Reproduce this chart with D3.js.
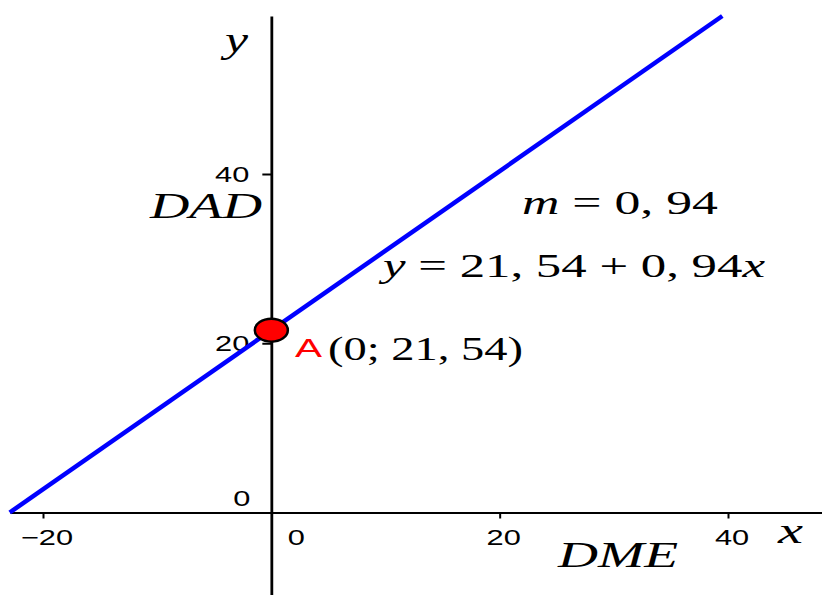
<!DOCTYPE html>
<html>
<head>
<meta charset="utf-8">
<script src="https://cdn.jsdelivr.net/npm/d3@7"></script>
<style>
  html, body { margin: 0; padding: 0; background: #fff; }
  svg { display: block; }
</style>
</head>
<body>
<div id="chart"></div>
<script>
const WIDTH = 822;
const HEIGHT = 595;

// line y = intercept + slope * x
const intercept = 21.54;
const slope = 0.94;

const xTickValues = [-20, 20, 40];
const xTickLabels = ["\u221220", "20", "40"];
const yTickValues = [20, 40];
const yTickLabels = ["20", "40"];
const pointA = [0, 21.54];

// picture is stretched horizontally, text is squeezed to match
const SX = 1.4;

const svg = d3.select("#chart")
    .append("svg")
    .attr("width", WIDTH)
    .attr("height", HEIGHT);

svg.append("rect").attr("width", WIDTH).attr("height", HEIGHT).attr("fill", "#fff");

// scales from tick positions, then extended to the drawn axis span
const x = d3.scaleLinear().domain([-20, 40]).range([43, 728]);
x.domain([x.invert(10), x.invert(822)]).range([10, 822]);

const y = d3.scaleLinear().domain([0, 40]).range([512.5, 174]);
const yTop = y.invert(16);
y.domain([y.invert(595), yTop]).range([595, 16]);

// X axis
const xAxis = svg.append("g")
    .attr("class", "x-axis")
    .attr("transform", `translate(0,${y(0)})`)
    .call(d3.axisBottom(x).tickValues(xTickValues).tickSize(6).tickSizeOuter(0).tickFormat(""));
xAxis.select(".domain").attr("stroke", "#000").attr("stroke-width", 2);
xAxis.selectAll(".tick line").attr("stroke", "#000").attr("stroke-width", 2);

// Y axis
const yAxis = svg.append("g")
    .attr("class", "y-axis")
    .attr("transform", `translate(${x(0)},0)`)
    .call(d3.axisLeft(y).tickValues(yTickValues).tickSize(9).tickSizeOuter(0).tickFormat(""));
yAxis.select(".domain").attr("stroke", "#000").attr("stroke-width", 2.8);
yAxis.selectAll(".tick line").attr("stroke", "#000").attr("stroke-width", 2);

const tickFont = { family: "Liberation Sans, Arial, sans-serif", size: 22 };

function sansLabel(px, py, anchor, str) {
    svg.append("text")
        .attr("transform", `translate(${px},${py}) scale(${SX},1)`)
        .attr("text-anchor", anchor)
        .style("font-family", tickFont.family)
        .style("font-size", tickFont.size + "px")
        .attr("fill", "#000")
        .text(str);
}

xTickValues.forEach((v, i) => sansLabel(x(v) + 4, y(0) + 32, "middle", xTickLabels[i]));
yTickValues.forEach((v, i) => sansLabel(x(0) - 22, y(v) + 8, "end", yTickLabels[i]));
// origin labels
sansLabel(x(0) + 25, y(0) + 32, "middle", "0");
sansLabel(x(0) - 21, y(0) - 6.5, "end", "0");

// regression line, clipped to y in [0, top]
const lineData = [0, yTop].map(v => [(v - intercept) / slope, v]);
svg.append("path")
    .datum(lineData)
    .attr("fill", "none")
    .attr("stroke", "#0000ff")
    .attr("stroke-width", 4.5)
    .attr("d", d3.line().x(d => x(d[0])).y(d => y(d[1])));

// point A
svg.append("ellipse")
    .attr("cx", x(pointA[0]))
    .attr("cy", y(pointA[1]))
    .attr("rx", 16.5)
    .attr("ry", 11.5)
    .attr("fill", "#ff0000")
    .attr("stroke", "#000")
    .attr("stroke-width", 2.5);

// math-style texts: parts = [[string, italic], ...]
function mathText(px, py, len, size, parts, color = "#000", family = "Liberation Serif, 'Times New Roman', serif") {
    const t = svg.append("text")
        .attr("x", px)
        .attr("y", py)
        .attr("textLength", len)
        .attr("lengthAdjust", "spacingAndGlyphs")
        .style("font-family", family)
        .style("font-size", size + "px")
        .attr("fill", color);
    parts.forEach(p => {
        t.append("tspan").style("font-style", p[1] ? "italic" : "normal").text(p[0]);
    });
}

mathText(225, 52, 23, 36, [["y", true]]);
mathText(150, 218, 112, 36, [["DAD", true]]);
mathText(778, 543, 25, 36, [["x", true]]);
mathText(558, 567, 120, 36, [["DME", true]]);
mathText(295, 357, 27, 26, [["A", false]], "#ff0000", "Liberation Sans, Arial, sans-serif");
mathText(328, 360, 195, 34, [["(0; 21, 54)", false]]);
mathText(522, 214, 196, 33, [["m", true], [" = 0, 94", false]]);
mathText(383, 277, 382, 34, [["y", true], [" = 21, 54 + 0, 94", false], ["x", true]]);
</script>
</body>
</html>
